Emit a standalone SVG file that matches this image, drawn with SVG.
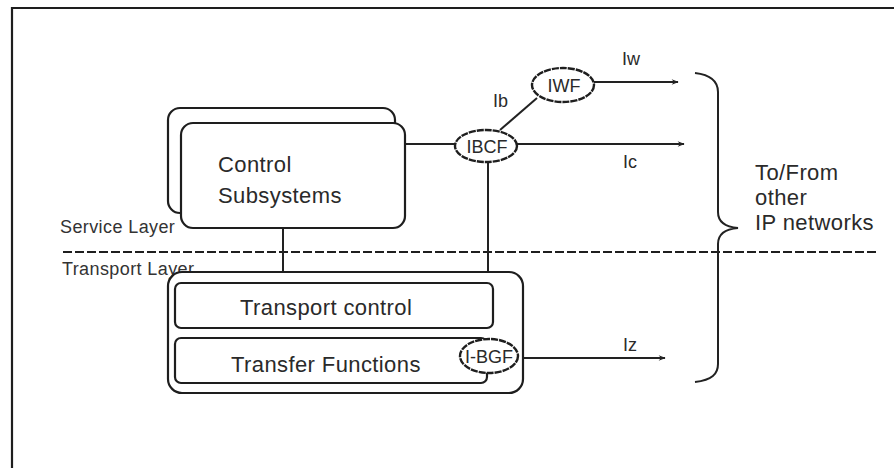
<svg xmlns="http://www.w3.org/2000/svg" width="894" height="468" viewBox="0 0 894 468">
  <style>
    .box { fill: #ffffff; stroke: #1e1e1e; stroke-width: 2.2; }
    .node { fill: #ffffff; stroke: #1e1e1e; stroke-width: 2.4; stroke-dasharray: 7 1; }
    .wire { fill: none; stroke: #222222; stroke-width: 2; }
    .layer { fill: none; stroke: #1e1e1e; stroke-width: 2.2; stroke-dasharray: 9 3; }
    .big { font-family: "Liberation Sans", Arial, sans-serif; font-size: 22px; letter-spacing: 0.4px; fill: #2a2a2a; }
    .mid { font-family: "Liberation Sans", Arial, sans-serif; font-size: 18px; fill: #2a2a2a; }
    .small { font-family: "Liberation Sans", Arial, sans-serif; font-size: 18px; letter-spacing: 0.4px; fill: #333333; }
  </style>
  <defs>
    <marker id="arrow" viewBox="0 0 10 10" refX="9" refY="5" markerWidth="9" markerHeight="7" markerUnits="userSpaceOnUse" orient="auto">
      <path d="M0,1 L10,5 L0,9 L3,5 Z" fill="#222222"/>
    </marker>
  </defs>

  <rect width="894" height="468" fill="#ffffff"/>

  <!-- page frame (top and left edges only) -->
  <path d="M12,468 L12,8 L894,8" fill="none" stroke="#1e1e1e" stroke-width="2.2"/>

  <!-- service / transport boundary -->
  <line class="layer" x1="63" y1="252" x2="877" y2="252"/>
  <text class="small" x="60" y="233">Service Layer</text>
  <text class="small" x="62" y="275">Transport Layer</text>

  <!-- connectors -->
  <g id="connectors">
    <line class="wire" x1="405" y1="144" x2="456" y2="144"/>
    <line class="wire" x1="517" y1="144" x2="684" y2="144" marker-end="url(#arrow)"/>
    <line class="wire" x1="594" y1="82" x2="678" y2="82" marker-end="url(#arrow)"/>
    <line class="wire" x1="537" y1="98" x2="500" y2="130"/>
    <line class="wire" x1="488" y1="161" x2="488" y2="283"/>
    <line class="wire" x1="283" y1="228" x2="283" y2="283"/>
    <line class="wire" x1="332" y1="328" x2="332" y2="338"/>
    <line class="wire" x1="490" y1="328" x2="490" y2="341"/>
    <line class="wire" x1="518" y1="358" x2="665" y2="358" marker-end="url(#arrow)"/>
    <text class="mid" x="622" y="65">Iw</text>
    <text class="mid" x="493" y="107">Ib</text>
    <text class="mid" x="623" y="168">Ic</text>
    <text class="mid" x="623" y="351">Iz</text>
  </g>

  <!-- control subsystems (stacked) -->
  <g id="control-subsystems">
    <rect class="box" x="168" y="108" width="227" height="105" rx="12"/>
    <rect class="box" x="181" y="123" width="224" height="105" rx="12"/>
    <text class="big" x="218" y="172">Control</text>
    <text class="big" x="218" y="203">Subsystems</text>
  </g>

  <!-- transport layer block -->
  <g id="transport">
    <rect class="box" x="168" y="272" width="355" height="121" rx="14" fill="none"/>
    <g id="transport-control">
      <rect class="box" x="175" y="283" width="318" height="45" rx="6"/>
      <text class="big" x="240" y="315">Transport control</text>
    </g>
    <g id="transfer-functions">
      <rect class="box" x="175" y="338" width="312" height="45" rx="6"/>
      <text class="big" x="231" y="372">Transfer Functions</text>
    </g>
  </g>

  <g id="i-bgf">
    <ellipse class="node" cx="489" cy="356" rx="29" ry="17"/>
    <text class="mid" x="489" y="363" text-anchor="middle">I-BGF</text>
  </g>

  <g id="ibcf">
    <ellipse class="node" cx="486" cy="146" rx="31" ry="16"/>
    <text class="mid" x="487" y="153" text-anchor="middle">IBCF</text>
  </g>

  <g id="iwf">
    <ellipse class="node" cx="563" cy="85" rx="31" ry="17"/>
    <text class="mid" x="564" y="92" text-anchor="middle">IWF</text>
  </g>

  <!-- external networks brace -->
  <g id="external">
    <path class="wire" d="M695,73 C712,75 718,82 718,92 L718,212 C718,222 726,227 738,228 C726,229 718,234 718,244 L718,364 C718,374 712,380 695,382"/>
    <text class="big" x="755" y="180">To/From</text>
    <text class="big" x="755" y="205">other</text>
    <text class="big" x="755" y="230">IP networks</text>
  </g>
</svg>
